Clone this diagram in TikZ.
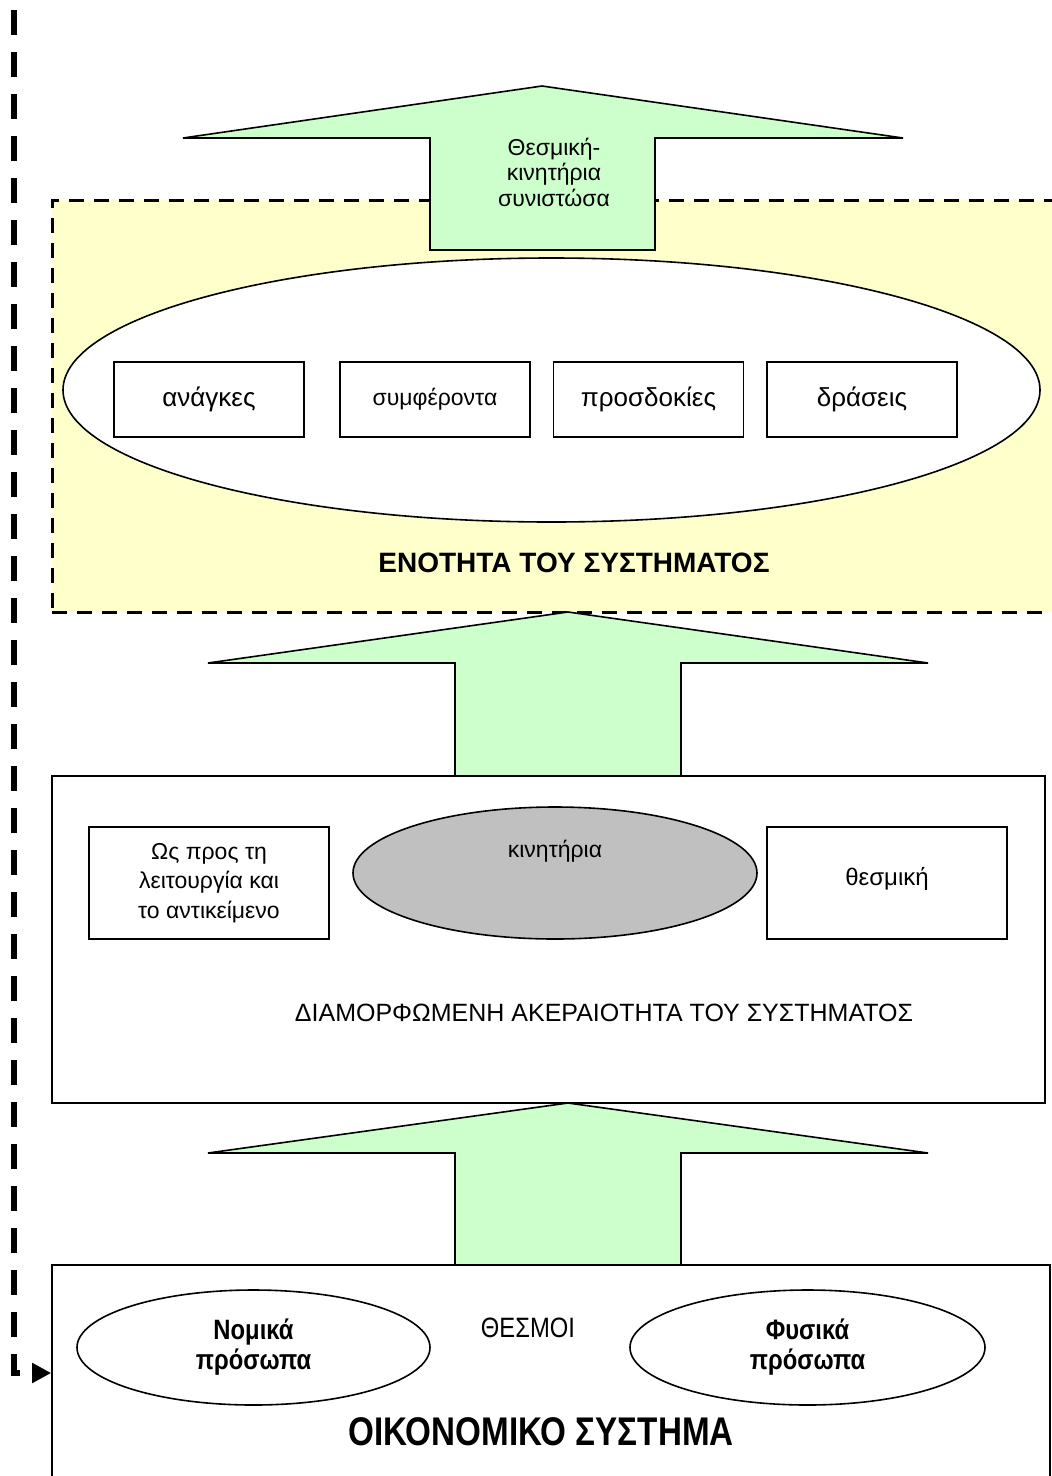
\documentclass[tikz,border=0pt]{standalone}
\usepackage{fontspec}
\setmainfont{Liberation Sans}
\usetikzlibrary{arrows.meta,shapes.geometric}
\definecolor{arrgreen}{RGB}{204,255,204}
\definecolor{unityyellow}{RGB}{255,255,204}
\definecolor{ovgray}{RGB}{192,192,192}
\newcommand{\narrow}[1]{\scalebox{0.85}[1]{#1}}

\begin{document}
\begin{tikzpicture}[x=1pt,y=-1pt,
  blockarr/.style={draw,line width=1.6pt,fill=arrgreen,line join=miter},
  wbox/.style={draw,line width=1.6pt,fill=white,inner sep=0pt,align=center},
  oval/.style={draw,ellipse,line width=1.6pt,fill=white,inner sep=0pt,align=center},
  fbline/.style={line width=6pt,dash pattern=on 25pt off 17pt,-{Triangle[length=19pt,width=19pt]}}]
\useasboundingbox (0,0) rectangle (1052,1476);
\node[draw,line width=3pt,dash pattern=on 15pt off 10pt,fill=unityyellow,minimum width=1010pt,minimum height=412pt] (unity) at (557,406) {};
\node[oval,minimum width=977pt,minimum height=264pt] (aims) at (551.5,390) {};
\node[wbox,minimum width=190pt,minimum height=75pt,font=\fontsize{26}{30}\selectfont] (needs) at (209,399.5) {ανάγκες};
\node[wbox,minimum width=190pt,minimum height=75pt,font=\fontsize{23}{28}\selectfont] (interests) at (435,399.5) {\raisebox{2pt}{συμφέροντα}};
\node[wbox,minimum width=190pt,minimum height=75pt,font=\fontsize{26}{30}\selectfont] (expect) at (648.5,399.5) {προσδοκίες};
\node[wbox,minimum width=190pt,minimum height=75pt,font=\fontsize{26}{30}\selectfont] (actions) at (862,399.5) {δράσεις};
\node[font=\fontsize{28}{32}\selectfont\bfseries] (unitylbl) at (574,563) {ΕΝΟΤΗΤΑ ΤΟΥ ΣΥΣΤΗΜΑΤΟΣ};
\draw[blockarr] (430,250) -- (430,138) -- (183,138) -- (542,86) -- (903,138) -- (655,138) -- (655,250) -- cycle;
\node[align=center,font=\fontsize{23}{25.5}\selectfont] (comp) at (554,172) {Θεσμική-\\κινητήρια\\συνιστώσα};
\node[wbox,minimum width=993pt,minimum height=327pt] (integ) at (548.5,939.5) {};
\node[wbox,minimum width=240pt,minimum height=112pt,font=\fontsize{23}{29.5}\selectfont] (func) at (209,883) {Ως προς τη\\λειτουργία και\\το αντικείμενο};
\node[oval,fill=ovgray,minimum width=404pt,minimum height=132pt,
  label={[font=\fontsize{23}{28}\selectfont,yshift=22pt]center:κινητήρια}] (motor) at (555,873) {};
\node[wbox,minimum width=240pt,minimum height=112pt,font=\fontsize{24}{28}\selectfont] (inst) at (887,883) {\raisebox{14pt}{θεσμική}};
\node[font=\fontsize{25}{30}\selectfont] (integlbl) at (604,1013) {ΔΙΑΜΟΡΦΩΜΕΝΗ ΑΚΕΡΑΙΟΤΗΤΑ ΤΟΥ ΣΥΣΤΗΜΑΤΟΣ};
\draw[blockarr] (455,776) -- (455,663) -- (208,663) -- (568,612) -- (928,663) -- (681,663) -- (681,776) -- cycle;
\node[wbox,minimum width=998pt,minimum height=216pt] (econ) at (551,1373) {};
\draw[blockarr] (455,1265) -- (455,1153) -- (208,1153) -- (568,1103) -- (928,1153) -- (681,1153) -- (681,1265) -- cycle;
\node[oval,minimum width=353pt,minimum height=115pt,font=\fontsize{28}{30}\selectfont\bfseries] (legal) at (253.5,1347.5) {\narrow{Νομικά}\\\narrow{πρόσωπα}};
\node[oval,minimum width=355pt,minimum height=115pt,font=\fontsize{28}{30}\selectfont\bfseries] (natural) at (807.5,1347.5) {\narrow{Φυσικά}\\\narrow{πρόσωπα}};
\node[font=\fontsize{28}{30}\selectfont] (instit) at (528,1328) {\narrow{ΘΕΣΜΟΙ}};
\node[font=\fontsize{40}{44}\selectfont\bfseries] (econlbl) at (541,1432) {\scalebox{0.83}[1]{ΟΙΚΟΝΟΜΙΚΟ ΣΥΣΤΗΜΑ}};
\coordinate (fb) at (14,10);
\draw[fbline] (fb) |- (econ.west);
\end{tikzpicture}
\end{document}
